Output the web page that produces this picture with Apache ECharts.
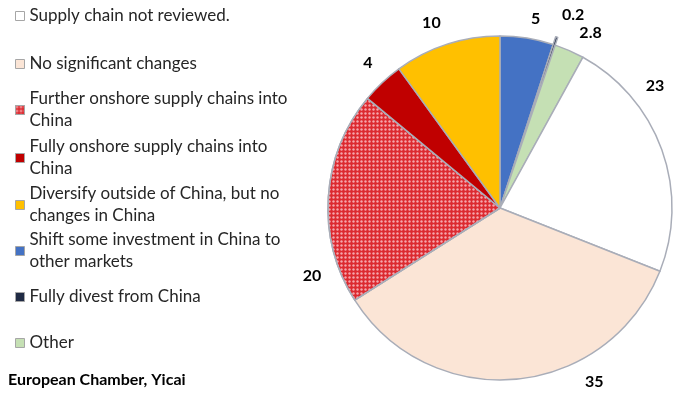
<!DOCTYPE html>
<html>
<head>
<meta charset="utf-8">
<script src="https://cdn.jsdelivr.net/npm/echarts@6/dist/echarts.min.js"></script>
<style>html,body{margin:0;padding:0;background:#fff;}#c{width:677px;height:398px;}</style>
</head>
<body>
<div id="c"></div>
<script>
// Slices in clockwise order starting at 12 o'clock
const categories = [
  'Shift some investment in China to other markets',
  'Fully divest from China',
  'Other',
  'Supply chain not reviewed.',
  'No significant changes',
  'Further onshore supply chains into China',
  'Fully onshore supply chains into China',
  'Diversify outside of China, but no changes in China'
];
const values = [5, 0.2, 2.8, 23, 35, 20, 4, 10];

// Legend order and wrapped labels
const legendOrder = [
  'Supply chain not reviewed.',
  'No significant changes',
  'Further onshore supply chains into China',
  'Fully onshore supply chains into China',
  'Diversify outside of China, but no changes in China',
  'Shift some investment in China to other markets',
  'Fully divest from China',
  'Other'
];
const legendText = [
  'Supply chain not reviewed.',
  'No significant changes',
  'Further onshore supply chains into\nChina',
  'Fully onshore supply chains into\nChina',
  'Diversify outside of China, but no\nchanges in China',
  'Shift some investment in China to\nother markets',
  'Fully divest from China',
  'Other'
];
const sourceText = 'European Chamber, Yicai';

// Styles (not data)
const colors = {
  'Shift some investment in China to other markets': '#4472c4',
  'Fully divest from China': '#1f2a44',
  'Other': '#c5e0b4',
  'Supply chain not reviewed.': '#ffffff',
  'No significant changes': '#fbe5d6',
  'Further onshore supply chains into China': '#dc2a30',
  'Fully onshore supply chains into China': '#c00000',
  'Diversify outside of China, but no changes in China': '#ffc000'
};
const legendCenters = [16, 64, 110, 158, 205, 251, 297, 343];
const labelShift = {
  0: [-4, 0], 1: [-6, -3], 2: [-3, 1], 3: [-40, -57],
  4: [62, -17], 5: [18, 80], 6: [9, -5], 7: [5, -3]
};
const LH = 22;
const FONT = 'Lato, "Open Sans", sans-serif';

const seriesData = categories.map((name, i) => {
  const item = { name, value: values[i], itemStyle: { color: colors[name] } };
  if (name === 'Further onshore supply chains into China') {
    item.itemStyle.decal = {
      symbol: 'circle', symbolSize: 0.8,
      color: 'rgba(255,220,225,0.7)',
      dashArrayX: [3, 1], dashArrayY: [3, 1]
    };
  }
  if (name === 'Fully divest from China') item.selected = true;
  return item;
});

const legends = legendOrder.map((name, i) => {
  const twoLine = legendText[i].indexOf('\n') >= 0;
  return {
    orient: 'vertical',
    left: 15,
    top: legendCenters[i] - (twoLine ? 1.5 * LH : LH / 2),
    padding: 0,
    itemWidth: 9, itemHeight: 9,
    itemGap: 0,
    icon: 'rect',
    selectedMode: false,
    itemStyle: { borderColor: '#a6a6a6', borderWidth: 1 },
    data: [{ name: name }],
    formatter: () => legendText[i],
    textStyle: {
      fontFamily: FONT, fontSize: 17, color: '#262626', lineHeight: LH,
      padding: twoLine ? [LH, 0, 0, 0] : 0
    }
  };
});

const chart = echarts.init(document.getElementById('c'), null, { renderer: 'canvas' });
chart.setOption({
  backgroundColor: '#ffffff',
  animation: false,
  title: {
    text: sourceText, left: 8, top: 372, padding: 0,
    textStyle: { fontFamily: FONT, fontSize: 16, fontWeight: 'bold', color: '#000' }
  },
  legend: legends,
  series: [{
    type: 'pie',
    center: [500, 208],
    radius: 172,
    startAngle: 90,
    clockwise: true,
    avoidLabelOverlap: false,
    selectedMode: 'single',
    selectedOffset: 8,
    minShowLabelAngle: 0,
    data: seriesData,
    itemStyle: { borderColor: '#a9adb8', borderWidth: 1.5 },
    label: {
      show: true, position: 'outside', formatter: '{c}',
      fontFamily: FONT, fontSize: 16, fontWeight: 'bold', color: '#000'
    },
    labelLine: { show: false, length: 20, length2: 0 },
    emphasis: { disabled: true },
    labelLayout: function (p) {
      const s = labelShift[p.dataIndex];
      if (s) return { dx: s[0], dy: s[1] };
      return {};
    }
  }]
});
</script>
</body>
</html>
